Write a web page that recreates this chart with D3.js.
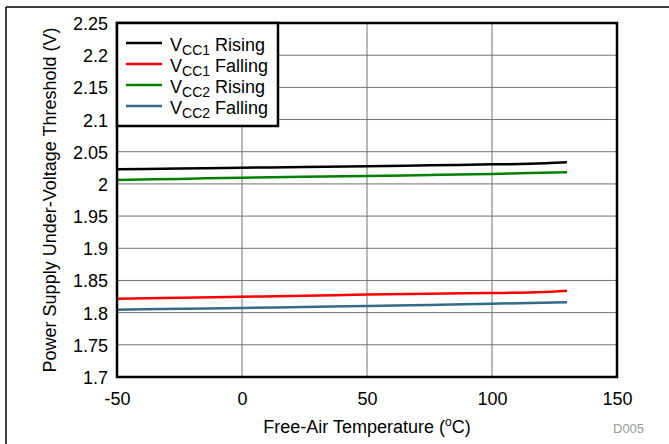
<!DOCTYPE html>
<html><head><meta charset="utf-8">
<script src="https://cdn.jsdelivr.net/npm/d3@7"></script>
<style>body{margin:0;background:#fff}svg{display:block;font-family:Arial,"Liberation Sans",sans-serif}</style>
</head><body>
<script>
const temps = [-50, -25, 0, 25, 50, 75, 100, 115, 130];
const vcc1Rising  = [2.0227, 2.0240, 2.0252, 2.0262, 2.0273, 2.0288, 2.0304, 2.0312, 2.0336];
const vcc1Falling = [1.8217, 1.8230, 1.8247, 1.8262, 1.8280, 1.8293, 1.8305, 1.8313, 1.8340];
const vcc2Rising  = [2.0060, 2.0078, 2.0097, 2.0110, 2.0123, 2.0138, 2.0154, 2.0170, 2.0180];
const vcc2Falling = [1.8046, 1.8060, 1.8072, 1.8088, 1.8103, 1.8120, 1.8139, 1.8150, 1.8160];
const seriesNames = ["Rising", "Falling", "Rising", "Falling"];
const seriesSubs = ["CC1", "CC1", "CC2", "CC2"];
const seriesColors = ["#000000", "#ff0000", "#008000", "#336b87"];
const xTicks = [-50, 0, 50, 100, 150];
const yTicks = [1.7, 1.75, 1.8, 1.85, 1.9, 1.95, 2, 2.05, 2.1, 2.15, 2.2, 2.25];

const W = 669, H = 444;
const FS = 18;
const svg = d3.select("body").append("svg").attr("width", W).attr("height", H);
const x = d3.scaleLinear().domain([-50, 150]).range([117, 617]);
const y = d3.scaleLinear().domain([1.7, 2.25]).range([377, 23]);

// frame
svg.append("line").attr("x1", 6).attr("x2", W).attr("y1", 7).attr("y2", 7).attr("stroke", "#000").attr("stroke-width", 1.5);
svg.append("line").attr("x1", 6).attr("x2", 6).attr("y1", 7).attr("y2", H).attr("stroke", "#000").attr("stroke-width", 1.5);

// grid
svg.append("g").selectAll("line").data(xTicks).join("line")
  .attr("x1", d => x(d)).attr("x2", d => x(d)).attr("y1", y(1.7)).attr("y2", y(2.25))
  .attr("stroke", "#707070").attr("stroke-width", 1);
svg.append("g").selectAll("line").data(yTicks).join("line")
  .attr("x1", x(-50)).attr("x2", x(150)).attr("y1", d => y(d)).attr("y2", d => y(d))
  .attr("stroke", "#707070").attr("stroke-width", 1);

// axes labels
const fmtY = d => String(+d.toFixed(2));
const xAxis = d3.axisBottom(x).tickValues(xTicks).tickSize(0).tickPadding(0).tickFormat(d => d);
const gx = svg.append("g").attr("transform", `translate(0,${y(1.7)})`).call(xAxis);
gx.select(".domain").remove();
gx.selectAll("text").attr("y", 28).attr("dy", null).attr("font-size", FS).attr("fill", "#000").attr("font-family", "Arial, 'Liberation Sans', sans-serif");
const yAxis = d3.axisLeft(y).tickValues(yTicks).tickSize(0).tickPadding(0).tickFormat(fmtY);
const gy = svg.append("g").attr("transform", `translate(${x(-50)},0)`).call(yAxis);
gy.select(".domain").remove();
gy.selectAll("text").attr("x", -9).attr("dy", "0.36em").attr("font-size", FS).attr("fill", "#000").attr("font-family", "Arial, 'Liberation Sans', sans-serif");

// lines
const allSeries = [vcc1Rising, vcc1Falling, vcc2Rising, vcc2Falling];
const line = d3.line().x((d, i) => x(temps[i])).y(d => y(d)).curve(d3.curveMonotoneX);
allSeries.forEach((s, k) => {
  svg.append("path").datum(s).attr("d", line).attr("fill", "none")
    .attr("stroke", seriesColors[k]).attr("stroke-width", 2.5);
});

// plot border
svg.append("rect").attr("x", x(-50)).attr("y", y(2.25)).attr("width", x(150) - x(-50)).attr("height", y(1.7) - y(2.25))
  .attr("fill", "none").attr("stroke", "#000").attr("stroke-width", 2.5);

// titles
svg.append("text").attr("x", (x(-50) + x(150)) / 2).attr("y", 433).attr("text-anchor", "middle")
  .attr("font-size", FS).html("Free-Air Temperature (<tspan dy='-7' font-size='12'>o</tspan><tspan dy='7'>C)</tspan>");
svg.append("text").attr("transform", `translate(56,${(y(1.7) + y(2.25)) / 2}) rotate(-90)`).attr("text-anchor", "middle")
  .attr("font-size", FS).text("Power Supply Under-Voltage Threshold (V)");
svg.append("text").attr("x", 613).attr("y", 433).attr("font-size", 13).attr("fill", "#999").text("D005");

// legend
const lg = svg.append("g");
lg.append("rect").attr("x", 117).attr("y", 23).attr("width", 161).attr("height", 103)
  .attr("fill", "#fff").attr("stroke", "#000").attr("stroke-width", 2.5);
seriesNames.forEach((n, k) => {
  const yy = 43 + k * 21;
  lg.append("line").attr("x1", 126).attr("x2", 162).attr("y1", yy).attr("y2", yy)
    .attr("stroke", seriesColors[k]).attr("stroke-width", 2.5);
  const t = lg.append("text").attr("x", 170).attr("y", yy + 8).attr("font-size", FS);
  t.append("tspan").text("V");
  t.append("tspan").attr("dy", 4).attr("font-size", 14).text(seriesSubs[k]);
  t.append("tspan").attr("dy", -4).text(" " + n);
});
</script>
</body></html>
